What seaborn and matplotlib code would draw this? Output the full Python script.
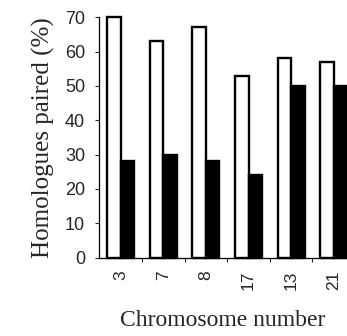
import matplotlib
matplotlib.use("Agg")
import matplotlib.pyplot as plt
import seaborn as sns
import pandas as pd
import numpy as np

chromosomes = ["3", "7", "8", "17", "13", "21"]
white_values = [70, 63, 67, 53, 58, 57]
black_values = [28, 30, 28, 24, 50, 50]
series_names = ["A", "B"]
y_ticks = [0, 10, 20, 30, 40, 50, 60, 70]

df = pd.DataFrame({
    "chrom": chromosomes * 2,
    "value": white_values + black_values,
    "series": [series_names[0]] * len(chromosomes) + [series_names[1]] * len(chromosomes),
})

sns.set_style("ticks")
fig = plt.figure(figsize=(3.47, 3.36), dpi=100)
ax = fig.add_axes([0.285, 0.233, 0.715, 0.716])

sns.barplot(data=df, x="chrom", y="value", hue="series", order=chromosomes,
            palette=["white", "black"], edgecolor="black", linewidth=1.7,
            width=0.63, gap=0, legend=False, ax=ax, errorbar=None)
for p in ax.patches:
    p.set_clip_on(False)

ax.set_ylim(0, 70)
ax.set_xlim(-0.51, 5.31)
ax.set_yticks(y_ticks)
ax.set_yticklabels([str(v) for v in y_ticks], fontsize=13, family="Liberation Sans")
ax.set_xticks(range(len(chromosomes)))
ax.set_xticklabels(chromosomes, rotation=90, fontsize=12.5, family="Liberation Sans")
ax.set_xticks(np.arange(0.5, len(chromosomes) - 0.5, 1.0), minor=True)
ax.tick_params(axis="x", which="major", length=0, pad=9)
ax.tick_params(axis="x", which="minor", length=3, width=0.8, direction="out")
ax.tick_params(axis="y", length=3, width=0.8, pad=7, direction="out")

ax.set_xlabel("Chromosome number", family="Liberation Serif", fontsize=17, labelpad=15)
ax.set_ylabel("Homologues paired (%)", family="Liberation Serif", fontsize=18, labelpad=7)

for s in ["top", "right"]:
    ax.spines[s].set_visible(False)
for s in ["left", "bottom"]:
    ax.spines[s].set_linewidth(0.9)
    ax.spines[s].set_color("black")

fig.savefig("out.png", dpi=100)
